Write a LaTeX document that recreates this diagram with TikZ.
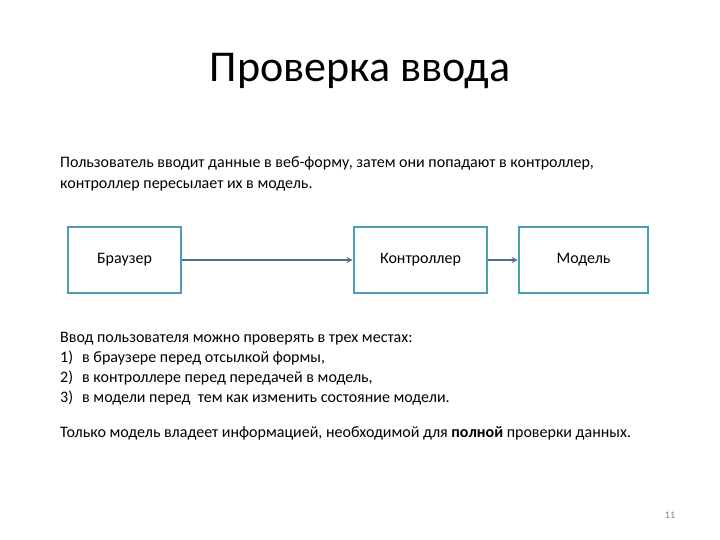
\documentclass[tikz,border=0pt]{standalone}
\usepackage{fontspec}
\setmainfont{Carlito}
\usetikzlibrary{arrows.meta}
\definecolor{boxc}{HTML}{4E9DB6}
\definecolor{arrc}{HTML}{4F6E94}
\tikzset{
  box/.style={draw=boxc, line width=2.6pt, minimum height=66pt, inner sep=0pt, font=\fontsize{16}{19}\selectfont},
  conn/.style={draw=arrc, line width=1.2pt, -{Stealth[length=6pt,width=6pt]}},
  body/.style={anchor=base west, inner sep=0pt, font=\fontsize{16}{19}\selectfont},
}
\begin{document}
\begin{tikzpicture}[x=1pt,y=-1pt]
\useasboundingbox (0,0) rectangle (720,540);
\node[font=\fontsize{44}{52}\selectfont, anchor=base, inner sep=0pt] (title) at (360,82) {Проверка ввода};
\node[body] (p1) at (60,168) {Пользователь вводит данные в веб-форму, затем они попадают в контроллер,};
\node[body] (p2) at (60,189) {контроллер пересылает их в модель.};
\node[box, minimum width=113pt] (b) at (124.5,260) {Браузер};
\node[box, minimum width=133pt] (c) at (420.5,260) {Контроллер};
\node[box, minimum width=129pt] (m) at (583.5,260) {Модель};
\draw[conn] (b.east) -- (c.west);
\draw[conn] (c.east) -- (m.west);
\node[body] (q0) at (60,342) {Ввод пользователя можно проверять в трех местах:};
\node[body] (q1) at (60,362) {1)};
\node[body] (q1t) at (82,362) {в браузере перед отсылкой формы,};
\node[body] (q2) at (60,382) {2)};
\node[body] (q2t) at (82,382) {в контроллере перед передачей в модель,};
\node[body] (q3) at (60,402) {3)};
\node[body] (q3t) at (82,402) {в модели перед \ тем как изменить состояние модели.};
\node[body] (r) at (60,437) {Только модель владеет информацией, необходимой для \textbf{полной} проверки данных.};
\node[anchor=base, inner sep=0pt, font=\fontsize{10}{12}\selectfont, text=gray] (pg) at (670,518) {11};
\end{tikzpicture}
\end{document}
